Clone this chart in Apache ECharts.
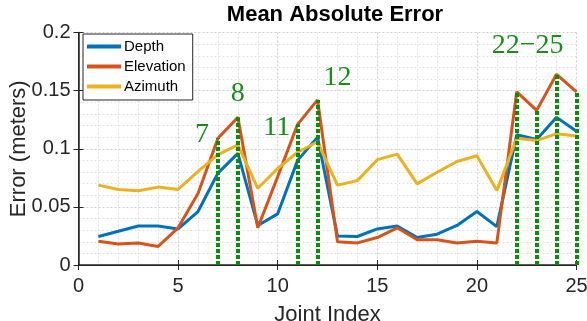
<!DOCTYPE html>
<html>
<head>
<meta charset="utf-8">
<script src="https://cdn.jsdelivr.net/npm/echarts@6/dist/echarts.min.js"></script>
<style>html,body{margin:0;padding:0;background:#fff;}#c{width:587px;height:321px;}</style>
</head>
<body>
<div id="c"></div>
<script>
const joints = [1,2,3,4,5,6,7,8,9,10,11,12,13,14,15,16,17,18,19,20,21,22,23,24,25];
const depth = [0.0245,0.029,0.0336,0.0336,0.031,0.046,0.079,0.096,0.034,0.044,0.090,0.110,0.025,0.0245,0.031,0.0336,0.0236,0.0265,0.034,0.046,0.033,0.112,0.108,0.127,0.115];
const elevation = [0.0205,0.018,0.019,0.016,0.032,0.0615,0.109,0.127,0.032,0.076,0.121,0.142,0.020,0.019,0.0236,0.032,0.0217,0.0217,0.019,0.0205,0.019,0.149,0.133,0.164,0.149];
const azimuth = [0.0687,0.065,0.0638,0.067,0.065,0.0806,0.095,0.1034,0.066,0.083,0.097,0.106,0.0687,0.0726,0.0906,0.0954,0.0698,0.0798,0.089,0.094,0.064,0.109,0.107,0.113,0.111];
const highlightJoints = [7,8,11,12,22,23,24,25];
const annotationText = ['7','8','11','12','22\u221225'];
const annotationX = [6.2,8,9.95,13,22.55];
const annotationY = [0.112,0.147,0.118,0.161,0.189];
const xTicks = [0,5,10,15,20,25];
const yTicks = [0,0.05,0.1,0.15,0.2];

const axisColor = '#262626';
const font = '"Liberation Sans", Arial, sans-serif';
const green = '#0c8c0c';

function pairs(vals){ return joints.map((j,i)=>[j, vals[i]]); }

const vLines = highlightJoints.map(j => [
  {coord:[j,0]},
  {coord:[j, elevation[joints.indexOf(j)]]}
]);

const annPoints = annotationText.map((t,i)=>({
  coord:[annotationX[i], annotationY[i]],
  value:t,
  label:{formatter:t}
}));

const chart = echarts.init(document.getElementById('c'), null, {renderer:'canvas'});
chart.setOption({
  animation:false,
  backgroundColor:'#fff',
  title:{
    text:'Mean Absolute Error',
    left:330, top:-1, textAlign:'center',
    textStyle:{fontFamily:font, fontWeight:'bold', fontSize:22, color:'#000'}
  },
  grid:{left:78.5, right:10.5, top:32.5, bottom:56, containLabel:false, outerBoundsMode:'none'},
  legend:{
    orient:'vertical', left:83, top:34,
    backgroundColor:'#fff', borderColor:axisColor, borderWidth:1,
    padding:[5,7,6,4], itemGap:5,
    itemWidth:34, itemHeight:4, icon:'rect',
    textStyle:{fontFamily:font, fontSize:15, color:'#000', padding:[0,0,0,-2]},
    data:['Depth','Elevation','Azimuth']
  },
  xAxis:[{
    type:'value', min:xTicks[0], max:xTicks[xTicks.length-1], interval:5,
    name:'Joint Index', nameLocation:'middle', nameGap:39, nameMoveOverlap:false,
    nameTextStyle:{fontFamily:font, fontSize:22, color:axisColor},
    axisLine:{lineStyle:{color:axisColor, width:1}},
    axisTick:{inside:true, length:5, lineStyle:{color:axisColor}},
    axisLabel:{fontFamily:font, fontSize:20, color:axisColor, margin:11},
    splitLine:{show:true, lineStyle:{color:'#cfcfcf', type:[2,2], width:1}},
    minorTick:{show:false, splitNumber:5},
    minorSplitLine:{show:true, lineStyle:{color:'#e2e2e2', type:[2,2], width:1}}
  },{
    type:'value', position:'top', min:0, max:25, interval:5,
    axisLine:{show:true, lineStyle:{color:axisColor, width:1.5}},
    axisTick:{inside:true, length:5, lineStyle:{color:axisColor}},
    axisLabel:{show:false}, splitLine:{show:false}
  }],
  yAxis:[{
    type:'value', min:yTicks[0], max:yTicks[yTicks.length-1], interval:0.05,
    name:'Error (meters)', nameLocation:'middle', nameGap:49, nameMoveOverlap:false,
    nameTextStyle:{fontFamily:font, fontSize:22, color:axisColor},
    axisLine:{show:true, lineStyle:{color:axisColor, width:1}},
    axisTick:{show:true, inside:true, length:5, lineStyle:{color:axisColor}},
    axisLabel:{fontFamily:font, fontSize:20, color:axisColor, margin:8},
    splitLine:{show:true, lineStyle:{color:'#cfcfcf', type:[2,2], width:1}},
    minorTick:{show:false, splitNumber:5},
    minorSplitLine:{show:true, lineStyle:{color:'#e2e2e2', type:[2,2], width:1}}
  },{
    type:'value', position:'right', min:0, max:0.2, interval:0.05,
    axisLine:{show:true, lineStyle:{color:axisColor, width:1.5}},
    axisTick:{show:true, inside:true, length:5, lineStyle:{color:axisColor}},
    axisLabel:{show:false}, splitLine:{show:false}
  }],
  series:[
    {name:'Depth', type:'line', data:pairs(depth), showSymbol:false, symbol:'none',
     color:'#0072BD', lineStyle:{width:3, color:'#0072BD'}, z:3},
    {name:'Elevation', type:'line', data:pairs(elevation), showSymbol:false, symbol:'none',
     color:'#D95319', lineStyle:{width:3, color:'#D95319'}, z:3},
    {name:'Azimuth', type:'line', data:pairs(azimuth), showSymbol:false, symbol:'none',
     color:'#EDB120', lineStyle:{width:3, color:'#EDB120'}, z:3},
    {name:'highlight', type:'line', data:[], z:5,
     markLine:{silent:true, symbol:['none','none'], animation:false,
       lineStyle:{color:green, width:4, type:[4,2]},
       label:{show:false}, data:vLines},
     markPoint:{silent:true, symbol:'circle', symbolSize:0, animation:false,
       label:{show:true, position:'inside', color:'#1a8c1a',
         fontFamily:'"Liberation Serif", "Times New Roman", serif', fontSize:28},
       data:annPoints}
    }
  ]
});
</script>
</body>
</html>
